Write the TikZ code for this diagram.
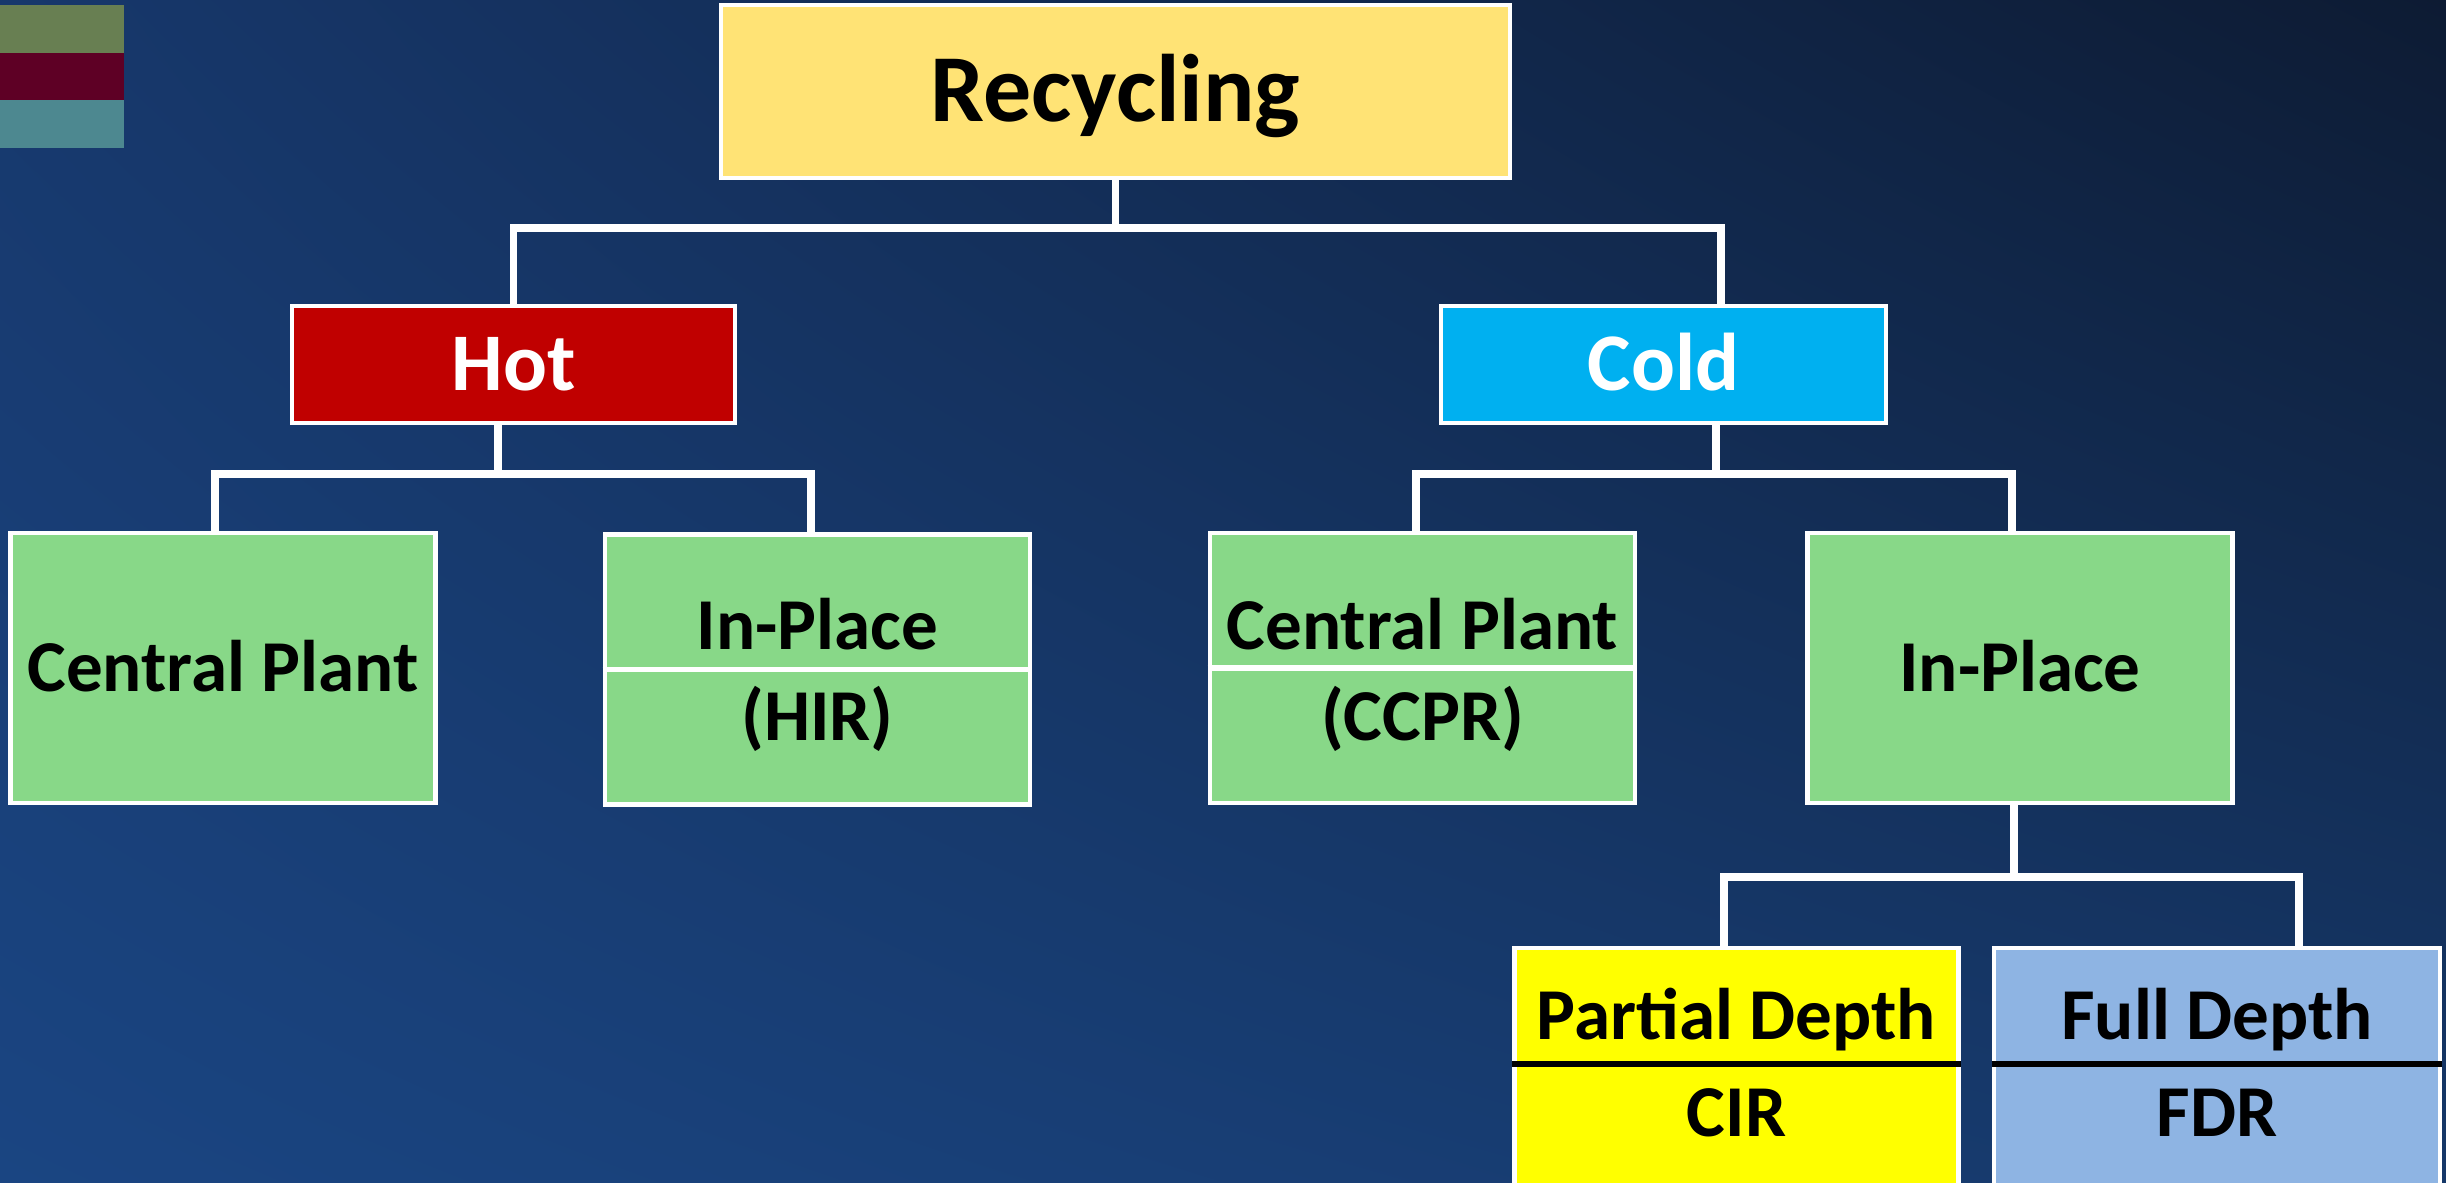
\documentclass[tikz,border=0pt]{standalone}
\usepackage{fontspec}
\setmainfont{Carlito}
\usepackage{tikz}
\usetikzlibrary{calc,shadings}
\definecolor{bgul}{HTML}{17386C}
\definecolor{bgur}{HTML}{0D1B33}
\definecolor{bgll}{HTML}{1A4582}
\definecolor{bglr}{HTML}{163869}
\definecolor{barA}{HTML}{687F52}
\definecolor{barB}{HTML}{5E0025}
\definecolor{barC}{HTML}{4D8890}
\definecolor{recfill}{HTML}{FFE375}
\definecolor{hotfill}{HTML}{C00000}
\definecolor{coldfill}{HTML}{00B0F0}
\definecolor{leaf}{HTML}{88D888}
\definecolor{cirfill}{HTML}{FFFF00}
\definecolor{fdrfill}{HTML}{8EB4E3}
\tikzset{
  box/.style={draw=white, line width=1.4pt, inner sep=0pt, text height=13.1pt, text depth=0pt, font=\bfseries\fontsize{20.8}{24}\selectfont},
  topbox/.style={box, fill=recfill, text height=17.3pt, font=\bfseries\fontsize{27.3}{30}\selectfont},
  midbox/.style={box, text=white, text height=14.7pt, font=\bfseries\fontsize{23.3}{26}\selectfont},
  leafbox/.style={box, fill=leaf, minimum width=42.5mm, minimum height=27mm},
  depthbox/.style={box, minimum width=44.4mm, minimum height=24.2mm},
  lbl/.style={inner sep=0pt, text height=13.1pt, text depth=0pt, font=\bfseries\fontsize{20.8}{24}\selectfont},
  conn/.style={draw=white, line width=2.1pt},
  divw/.style={draw=white, line width=1.6pt},
  divk/.style={draw=black, line width=1.5pt}
}
\begin{document}
\begin{tikzpicture}[x=0.1mm, y=-0.1mm]
  \useasboundingbox (0,0) rectangle (2446,1182);
  \clip (0,0) rectangle (2446,1182);
  \shade[upper left=bgul, upper right=bgur, lower left=bgll, lower right=bglr] (0,0) rectangle (2446,1182);

  % colour strip, top left
  \fill[barA] (0,5) rectangle (124,53);
  \fill[barB] (0,53) rectangle (124,100);
  \fill[barC] (0,100) rectangle (124,148);

  \node[topbox, minimum width=78.9mm, minimum height=17.3mm] (rec) at (1115.5,91.5) {Recycling};
  \node[midbox, fill=hotfill, minimum width=44.3mm, minimum height=11.7mm] (hot) at (513.5,364.5) {Hot};
  \node[midbox, fill=coldfill, minimum width=44.5mm, minimum height=11.7mm] (cold) at (1663.5,364.5) {Cold};

  \node[leafbox] (cph) at (223,668) {Central Plant};
  \node[leafbox] (hir) at (817.5,669.5) {};
  \node[leafbox] (ccpr) at (1422.5,668) {};
  \node[leafbox] (ipc) at (2020,668) {In-Place};

  \node[depthbox, fill=cirfill] (cir) at (1736.5,1069) {};
  \node[depthbox, fill=fdrfill, minimum width=44.6mm] (fdr) at (2217,1069) {};

  % split boxes
  \draw[divw] (hir.west) -- (hir.east);
  \node[lbl] (hirA) at (817.5,626) {In-Place};
  \node[lbl] (hirB) at (817.5,717) {(HIR)};
  \draw[divw] (ccpr.west) -- (ccpr.east);
  \node[lbl] (ccprA) at (1422.5,626) {Central Plant};
  \node[lbl] (ccprB) at (1422.5,717) {(CCPR)};
  \draw[divk] ([yshift=0.5mm]cir.west) -- ([yshift=0.5mm]cir.east);
  \node[lbl] (cirA) at (1736.5,1016) {Partial Depth};
  \node[lbl] (cirB) at (1736.5,1113) {CIR};
  \draw[divk] ([yshift=0.5mm]fdr.west) -- ([yshift=0.5mm]fdr.east);
  \node[lbl] (fdrA) at (2217,1016) {Full Depth};
  \node[lbl] (fdrB) at (2217,1113) {FDR};

  % connectors
  \coordinate (j1) at (1114,228);
  \coordinate (j2) at (498,474);
  \coordinate (j3) at (1716,474);
  \coordinate (j4) at (2014,877);
  \draw[conn] (rec.south) -- (rec.south |- j1);
  \draw[conn] (hot.north) |- (j1) -| ([xshift=5.75mm]cold.north);
  \draw[conn] (hot.south -| j2) -- (j2);
  \draw[conn] ([xshift=-0.8mm]cph.north) |- (j2) -| ([xshift=-0.65mm]hir.north);
  \draw[conn] (cold.south -| j3) -- (j3);
  \draw[conn] ([xshift=-0.65mm]ccpr.north) |- (j3) -| ([xshift=-0.8mm]ipc.north);
  \draw[conn] (ipc.south -| j4) -- (j4);
  \draw[conn] ([xshift=-1.25mm]cir.north) |- (j4) -| ([xshift=8.2mm]fdr.north);
\end{tikzpicture}
\end{document}
